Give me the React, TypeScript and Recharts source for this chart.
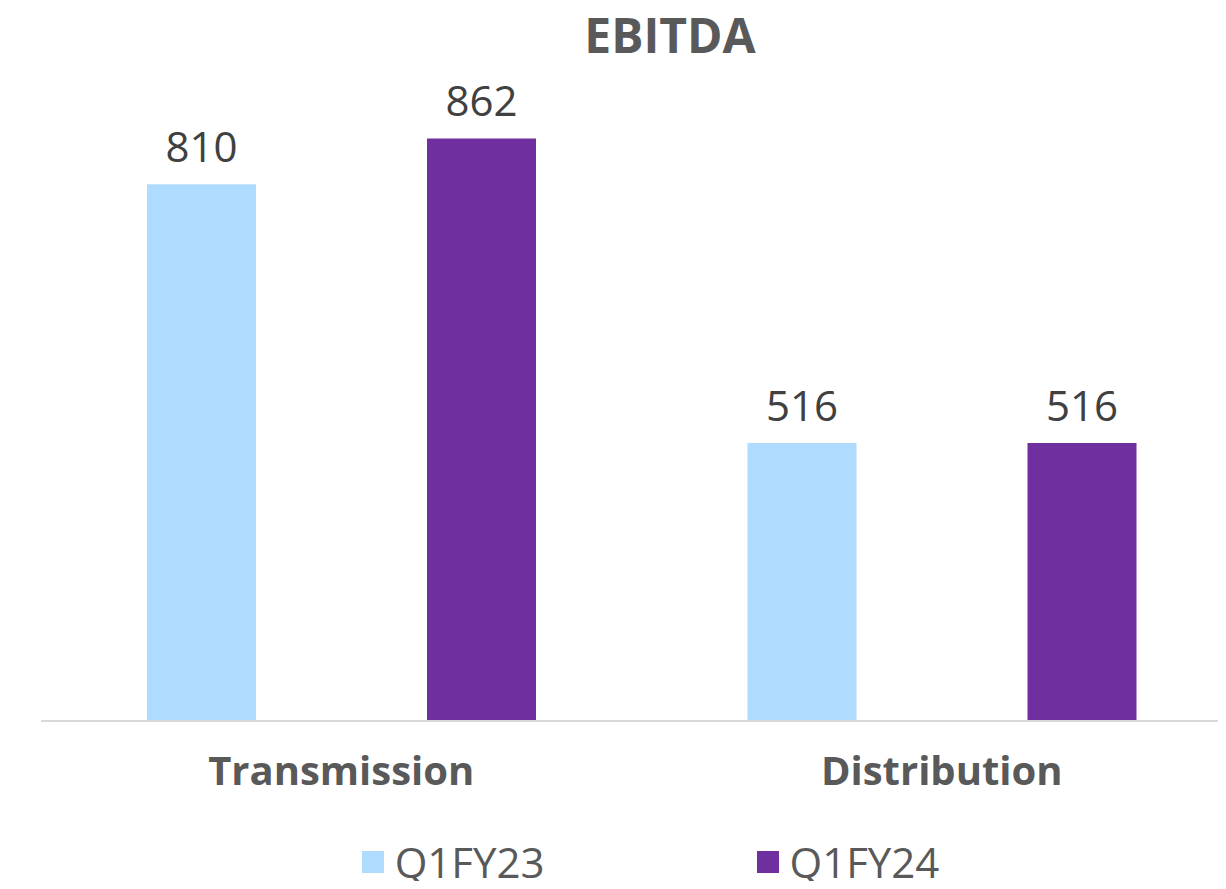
import { BarChart, Bar, XAxis, YAxis, LabelList, Legend } from 'recharts';

const categories = ['Transmission', 'Distribution'];
const q1fy23 = [810, 516];
const q1fy24 = [862, 516];
const seriesNames = ['Q1FY23', 'Q1FY24'];
const seriesColors = ['#afdcfe', '#702f9f'];

const data = categories.map((name, i) => ({
  name,
  q1fy23: q1fy23[i],
  q1fy24: q1fy24[i],
}));

const FONT = '"Open Sans", sans-serif';

function LegendContent() {
  return (
    <div
      style={{
        height: 80,
        boxSizing: 'border-box',
        paddingTop: 26,
        paddingLeft: 18,
        display: 'flex',
        justifyContent: 'center',
        alignItems: 'center',
        gap: 212,
        fontFamily: FONT,
        fontSize: 42,
        lineHeight: 1,
        color: '#595959',
        overflow: 'visible',
      }}
    >
      {seriesNames.map((s, i) => (
        <div key={s} style={{ display: 'flex', alignItems: 'center' }}>
          <span style={{ width: 22, height: 22, background: seriesColors[i], marginRight: 11 }} />
          <span>{s}</span>
        </div>
      ))}
    </div>
  );
}

export default function App() {
  return (
    <div style={{ margin: -8, width: 1226, height: 889, position: 'relative', overflow: 'hidden', background: '#fff' }}>
      <div
        style={{
          position: 'absolute',
          top: 2,
          left: 570,
          width: 200,
          textAlign: 'center',
          fontFamily: FONT,
          fontWeight: 700,
          fontSize: 48,
          color: '#595959',
          zIndex: 2,
        }}
      >
        EBITDA
      </div>
      <BarChart
        width={1226}
        height={889}
        data={data}
        margin={{ top: 17, right: -16, bottom: 0, left: 41 }}
        barSize={109}
        barGap={171}
        barCategoryGap="17.5%"
      >
        <XAxis
          dataKey="name"
          axisLine={{ stroke: '#d9d9d9', strokeWidth: 2 }}
          tickLine={false}
          tickSize={0}
          tickMargin={36}
          height={88}
          tick={{ fill: '#595959', fontSize: 40, fontWeight: 700, fontFamily: FONT }}
        />
        <YAxis hide domain={[200, 1000]} />
        <Legend verticalAlign="bottom" wrapperStyle={{ overflow: 'visible' }} content={<LegendContent />} />
        <Bar dataKey="q1fy23" name={seriesNames[0]} fill={seriesColors[0]} isAnimationActive={false}>
          <LabelList dataKey="q1fy23" position="top" offset={22} fill="#404040" fontSize={42} fontFamily={FONT} />
        </Bar>
        <Bar dataKey="q1fy24" name={seriesNames[1]} fill={seriesColors[1]} isAnimationActive={false}>
          <LabelList dataKey="q1fy24" position="top" offset={22} fill="#404040" fontSize={42} fontFamily={FONT} />
        </Bar>
      </BarChart>
    </div>
  );
}
